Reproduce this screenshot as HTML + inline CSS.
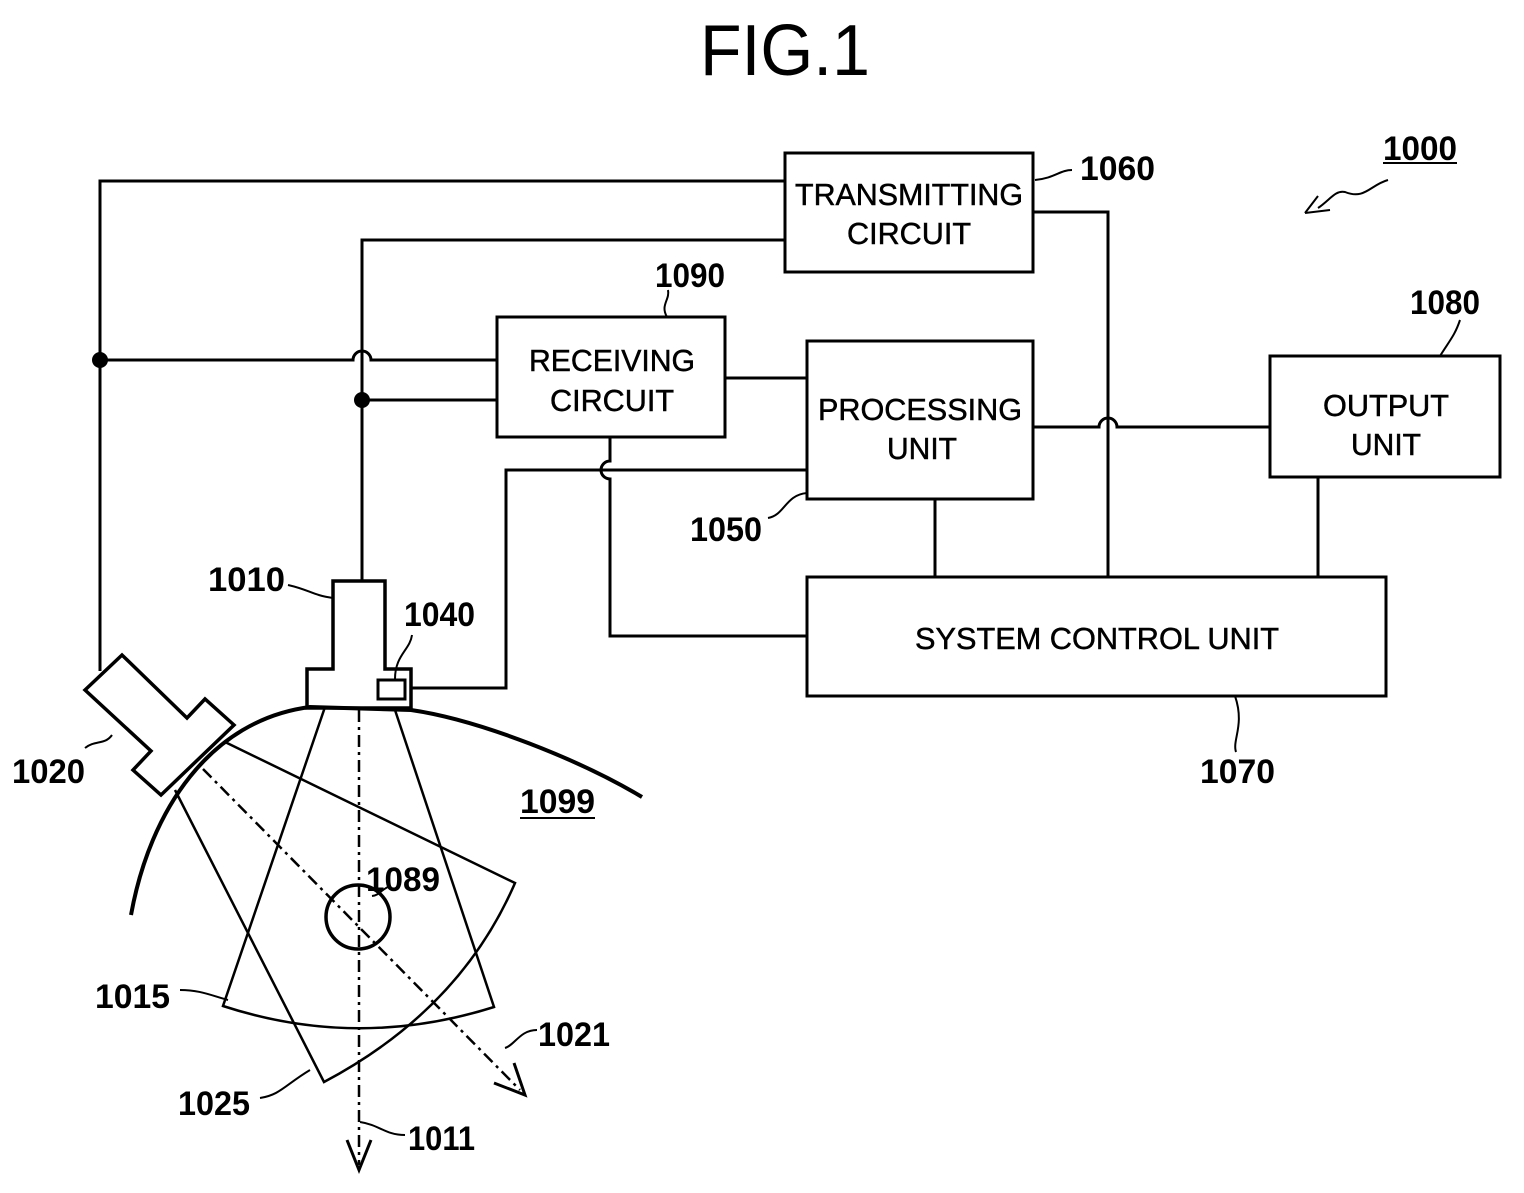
<!DOCTYPE html>
<html><head><meta charset="utf-8"><style>
html,body{margin:0;padding:0;background:#fff;}
svg{display:block;}
text{font-family:"Liberation Sans",sans-serif;fill:#000;}
.n{font-size:34px;font-weight:bold;}
.b{font-size:31px;stroke:#000;stroke-width:0.5;}
</style></head><body>
<svg width="1524" height="1193" viewBox="0 0 1524 1193" xmlns="http://www.w3.org/2000/svg">
<g fill="none" stroke="#000" stroke-width="3">
<rect x="785" y="153" width="248" height="119"/>
<rect x="497" y="317" width="228" height="120"/>
<rect x="807" y="341" width="226" height="158"/>
<rect x="1270" y="356" width="230" height="121"/>
<rect x="807" y="577" width="579" height="119"/>
<path d="M100,671 V181 H785"/>
<path d="M362,581 V240 H785"/>
<path d="M100,360 H353 A9,9 0 0 1 371,360 H497"/>
<path d="M362,400 H497"/>
<path d="M725,378 H807"/>
<path d="M610,437 V461 A9,9 0 0 0 610,479 V636 H807"/>
<path d="M410,688 H506 V470 H807"/>
<path d="M1033,212 H1108 V577"/>
<path d="M1033,427 H1099 A9,9 0 0 1 1117,427 H1270"/>
<path d="M935,499 V577"/>
<path d="M1318,477 V577"/>
<path d="M333,669 V581 H385 V669 H411 V708 H307 V669 Z" stroke-width="3.5"/>
<rect x="378" y="680" width="27" height="19" stroke-width="3"/>
<path d="M85,690 L122,655 L187,718 L205,699 L234,725 L161,795 L133,770 L151,751 Z" stroke-width="3.5"/>
<path d="M131,915 C150,810 210,720 310,707 L411,710 C480,720 580,760 642,797" stroke-width="4"/>
<path d="M325,707 L223,1006 Q358,1050 494,1007 L395,710" stroke-width="2.5"/>
<path d="M175,790 L324,1082 Q460,1010 515,883 L225,742" stroke-width="2.5"/>
<circle cx="358" cy="917" r="32" stroke-width="3.5"/>
<path d="M359,710 V1165" stroke-width="2.5" stroke-dasharray="12,5,3,5"/>
<path d="M203,769 L520,1090" stroke-width="2.5" stroke-dasharray="12,5,3,5"/>
<path d="M347,1140 L359,1170 L371,1140" stroke-width="3"/>
<path d="M494,1083 L525,1095 L514,1063" stroke-width="3"/>
<path d="M288,585 C310,590 312,595 333,598" stroke-width="2"/>
<path d="M395,679 C395,655 410,650 412,635" stroke-width="2"/>
<path d="M85,748 C95,740 105,745 112,735" stroke-width="2"/>
<path d="M180,990 C200,990 210,995 228,1000" stroke-width="2"/>
<path d="M260,1098 C280,1095 285,1085 310,1070" stroke-width="2"/>
<path d="M405,1135 C385,1135 380,1125 360,1122" stroke-width="2"/>
<path d="M537,1030 C520,1030 515,1045 505,1048" stroke-width="2"/>
<path d="M390,886 C380,890 380,895 372,896" stroke-width="2"/>
<path d="M1072,170 C1060,170 1055,178 1035,180" stroke-width="2"/>
<path d="M668,290 C670,300 660,305 667,317" stroke-width="2"/>
<path d="M1460,320 C1455,335 1450,340 1440,356" stroke-width="2"/>
<path d="M768,518 C785,515 785,495 807,493" stroke-width="2"/>
<path d="M1236,752 C1232,740 1245,725 1235,696" stroke-width="2"/>
<path d="M1388,180 C1370,185 1365,200 1345,192 C1335,190 1330,200 1318,208" stroke-width="2"/>
<path d="M1305,213 L1330,210 M1305,213 L1318,196" stroke-width="2"/>
<path d="M520,818 H595" stroke-width="2"/>
<path d="M1383,163 H1457" stroke-width="2"/>
</g>
<circle cx="100" cy="360" r="8" fill="#000"/>
<circle cx="362" cy="400" r="8" fill="#000"/>
<text x="785" y="75" text-anchor="middle" font-size="72" textLength="170" lengthAdjust="spacingAndGlyphs">FIG.1</text>
<text class="b" x="909" y="205" text-anchor="middle" textLength="228" lengthAdjust="spacingAndGlyphs">TRANSMITTING</text>
<text class="b" x="909" y="244" text-anchor="middle" textLength="124" lengthAdjust="spacingAndGlyphs">CIRCUIT</text>
<text class="b" x="612" y="371" text-anchor="middle" textLength="166" lengthAdjust="spacingAndGlyphs">RECEIVING</text>
<text class="b" x="612" y="411" text-anchor="middle" textLength="124" lengthAdjust="spacingAndGlyphs">CIRCUIT</text>
<text class="b" x="920" y="420" text-anchor="middle" textLength="204" lengthAdjust="spacingAndGlyphs">PROCESSING</text>
<text class="b" x="922" y="459" text-anchor="middle" textLength="70" lengthAdjust="spacingAndGlyphs">UNIT</text>
<text class="b" x="1386" y="416" text-anchor="middle" textLength="126" lengthAdjust="spacingAndGlyphs">OUTPUT</text>
<text class="b" x="1386" y="455" text-anchor="middle" textLength="70" lengthAdjust="spacingAndGlyphs">UNIT</text>
<text class="b" x="1097" y="649" text-anchor="middle" textLength="364" lengthAdjust="spacingAndGlyphs">SYSTEM CONTROL UNIT</text>
<text class="n" x="1080" y="180" textLength="75" lengthAdjust="spacingAndGlyphs">1060</text>
<text class="n" x="1383" y="160" textLength="74" lengthAdjust="spacingAndGlyphs">1000</text>
<text class="n" x="655" y="287" textLength="70" lengthAdjust="spacingAndGlyphs">1090</text>
<text class="n" x="1410" y="314" textLength="70" lengthAdjust="spacingAndGlyphs">1080</text>
<text class="n" x="690" y="541" textLength="72" lengthAdjust="spacingAndGlyphs">1050</text>
<text class="n" x="1200" y="783" textLength="75" lengthAdjust="spacingAndGlyphs">1070</text>
<text class="n" x="208" y="591" textLength="77" lengthAdjust="spacingAndGlyphs">1010</text>
<text class="n" x="404" y="626" textLength="71" lengthAdjust="spacingAndGlyphs">1040</text>
<text class="n" x="12" y="783" textLength="73" lengthAdjust="spacingAndGlyphs">1020</text>
<text class="n" x="520" y="813" textLength="75" lengthAdjust="spacingAndGlyphs">1099</text>
<text class="n" x="366" y="891" textLength="74" lengthAdjust="spacingAndGlyphs">1089</text>
<text class="n" x="95" y="1008" textLength="75" lengthAdjust="spacingAndGlyphs">1015</text>
<text class="n" x="538" y="1046" textLength="72" lengthAdjust="spacingAndGlyphs">1021</text>
<text class="n" x="178" y="1115" textLength="72" lengthAdjust="spacingAndGlyphs">1025</text>
<text class="n" x="408" y="1150" textLength="67" lengthAdjust="spacingAndGlyphs">1011</text>
</svg>
</body></html>
